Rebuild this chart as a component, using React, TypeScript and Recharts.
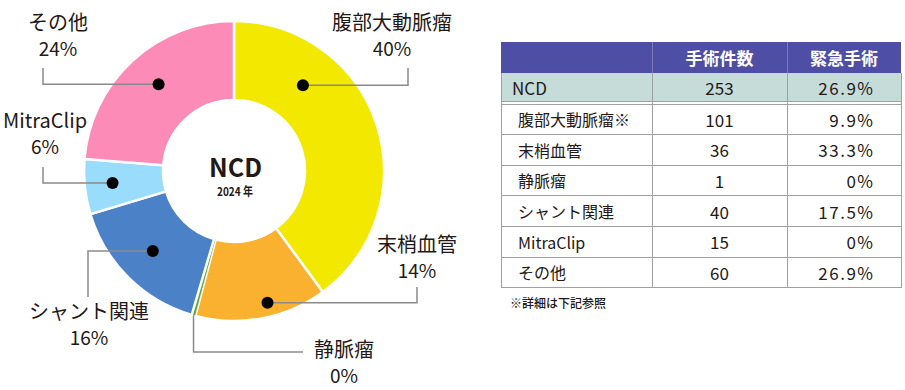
import { PieChart, Pie, Cell } from 'recharts';

// 2024 NCD registrations by category
const categories = ['腹部大動脈瘤', '末梢血管', '静脈瘤', 'シャント関連', 'MitraClip', 'その他'];
const tableCategories = ['腹部大動脈瘤※', '末梢血管', '静脈瘤', 'シャント関連', 'MitraClip', 'その他'];
const surgeryCounts = [101, 36, 1, 40, 15, 60];
const emergencyRates = ['9.9%', '33.3%', '0%', '17.5%', '0%', '26.9%'];
const totalEmergencyRate = '26.9%';
const columnHeaders = ['手術件数', '緊急手術'];
const centerTitle = 'NCD';
const centerYear = '2024 年';
const footnote = '※詳細は下記参照';

const sliceColors = ['#f2e800', '#fbb130', '#5ba53a', '#4b82c7', '#9adcfb', '#fd8bb8'];

const totalCount = surgeryCounts.reduce((a, b) => a + b, 0);
const pieData = categories.map((name, i) => ({ name, value: surgeryCounts[i] }));

const FONT = '"Noto Sans CJK JP", "Noto Sans", sans-serif';
const TEXT = '#231815';
const LEADER = '#8a8a8a';
const CX = 234;
const CY = 171;
const RAD = Math.PI / 180;

// callout geometry, offsets from the pie centre
// dotT: position of the dot across the slice's sweep, dotR: its radius
const callouts = [
  { dotT: 0.27, dotR: 110, elbowX: 174, endY: -103, textX: 158, textY: -148 },
  { dotT: 0.43, dotR: 136, elbowX: 183, endY: 116, textX: 183, textY: 74 },
  { dotT: 0, dotR: 0, elbowX: 69, endY: 181, textX: 110, textY: 179 },
  { dotT: 0.51, dotR: 114, elbowX: -146, endY: 126, textX: -145, textY: 141 },
  { dotT: 0.52, dotR: 122, elbowX: -191, endY: -4, textX: -189, textY: -50 },
  { dotT: 0.52, dotR: 115, elbowX: -191, endY: -103, textX: -176, textY: -148 },
];

const polar = (cx: number, cy: number, r: number, angle: number) => ({
  x: cx + r * Math.cos(-angle * RAD),
  y: cy + r * Math.sin(-angle * RAD),
});

const renderCallout = (props: any) => {
  const { cx, cy, startAngle, endAngle, midAngle, outerRadius, percent, index, name } = props;
  const c = callouts[index];
  let pts: number[][];
  let dot = null;
  if (c.dotR > 0) {
    const p = polar(cx, cy, c.dotR, startAngle + (endAngle - startAngle) * c.dotT);
    pts = [[p.x, p.y], [cx + c.elbowX, p.y], [cx + c.elbowX, cy + c.endY]];
    dot = <circle cx={p.x} cy={p.y} r={6} fill="#000" />;
  } else {
    // thin slice: leader starts on the outer edge and drops down
    const p = polar(cx, cy, outerRadius, midAngle);
    pts = [[p.x, p.y], [p.x, cy + c.endY], [cx + c.elbowX, cy + c.endY]];
  }
  const tx = cx + c.textX;
  const ty = cy + c.textY;
  return (
    <g key={`callout-${index}`}>
      <polyline
        points={pts.map((q) => q.join(',')).join(' ')}
        fill="none"
        stroke={LEADER}
        strokeWidth={1.5}
      />
      {dot}
      <text x={tx} y={ty + 7} textAnchor="middle" fontFamily={FONT} fontSize={20} fill={TEXT}>
        {name}
      </text>
      <text x={tx} y={ty + 33} textAnchor="middle" fontFamily={FONT} fontSize={19} fill={TEXT}>
        {`${Math.round(percent * 100)}%`}
      </text>
    </g>
  );
};

const T_LEFT = 501;
const COLS = [151, 135, 114];
const GRID = '#a0a0a0';
const ROW_H = 30.6;

function SummaryTable() {
  const cellBase = {
    position: 'absolute' as const,
    display: 'flex',
    alignItems: 'center',
    boxSizing: 'border-box' as const,
    whiteSpace: 'nowrap' as const,
    fontFamily: FONT,
    color: TEXT,
  };
  const x1 = T_LEFT + COLS[0];
  const x2 = x1 + COLS[1];
  const width = COLS[0] + COLS[1] + COLS[2];
  const dataTop = 104;
  const bottom = dataTop + ROW_H * tableCategories.length;

  return (
    <div style={{ position: 'absolute', left: 0, top: 0, width: 905, height: 390 }}>
      {/* header */}
      <div style={{ position: 'absolute', left: T_LEFT, top: 42, width, height: 31, background: '#4f4ea5' }} />
      {columnHeaders.map((h, i) => (
        <div
          key={h}
          style={{
            ...cellBase,
            left: i === 0 ? x1 : x2,
            top: 42,
            width: COLS[i + 1],
            height: 31,
            justifyContent: 'center',
            color: '#fff',
            fontWeight: 700,
            fontSize: 17,
          }}
        >
          {h}
        </div>
      ))}
      {/* NCD total row */}
      <div style={{ position: 'absolute', left: T_LEFT, top: 73, width, height: 28.5, background: '#c6dcd9' }} />
      <div style={{ ...cellBase, left: T_LEFT + 11, top: 73, height: 28.5, fontSize: 17 }}>{centerTitle}</div>
      <div style={{ ...cellBase, left: x1, top: 73, width: COLS[1], height: 28.5, justifyContent: 'center', fontSize: 17 }}>
        {totalCount}
      </div>
      <div
        style={{
          ...cellBase,
          left: x2,
          top: 73,
          width: COLS[2],
          height: 28.5,
          justifyContent: 'flex-end',
          paddingRight: 26.5,
          fontSize: 17,
          letterSpacing: 1.5,
        }}
      >
        {totalEmergencyRate}
      </div>
      {/* category rows */}
      {tableCategories.map((name, i) => {
        const top = dataTop + ROW_H * i;
        return (
          <div key={name}>
            <div style={{ ...cellBase, left: T_LEFT + 17, top, height: ROW_H, fontSize: 16 }}>{name}</div>
            <div
              style={{ ...cellBase, left: x1, top, width: COLS[1], height: ROW_H, justifyContent: 'center', fontSize: 17 }}
            >
              {surgeryCounts[i]}
            </div>
            <div
              style={{
                ...cellBase,
                left: x2,
                top,
                width: COLS[2],
                height: ROW_H,
                justifyContent: 'flex-end',
                paddingRight: 26.5,
                fontSize: 17,
                letterSpacing: 1.5,
              }}
            >
              {emergencyRates[i]}
            </div>
          </div>
        );
      })}
      {/* grid lines */}
      <svg style={{ position: 'absolute', left: 0, top: 0 }} width={905} height={390}>
        <g stroke={GRID} strokeWidth={1} shapeRendering="crispEdges">
          <line x1={T_LEFT} y1={73} x2={T_LEFT} y2={bottom} />
          <line x1={T_LEFT + width} y1={73} x2={T_LEFT + width} y2={bottom} />
          <line x1={x1} y1={73} x2={x1} y2={bottom} />
          <line x1={x2} y1={73} x2={x2} y2={bottom} />
          <line x1={T_LEFT} y1={101} x2={T_LEFT + width} y2={101} />
          {tableCategories.map((_, i) => (
            <line key={i} x1={T_LEFT} y1={dataTop + ROW_H * i} x2={T_LEFT + width} y2={dataTop + ROW_H * i} />
          ))}
          <line x1={T_LEFT} y1={bottom} x2={T_LEFT + width} y2={bottom} />
        </g>
        <g stroke="#7a7ab8" strokeWidth={1} shapeRendering="crispEdges">
          <line x1={x1} y1={42} x2={x1} y2={73} />
          <line x1={x2} y1={42} x2={x2} y2={73} />
        </g>
      </svg>
      <div
        style={{
          position: 'absolute',
          left: 510,
          top: 294,
          fontFamily: FONT,
          fontSize: 12,
          fontWeight: 500,
          color: TEXT,
          whiteSpace: 'nowrap',
        }}
      >
        {footnote}
      </div>
    </div>
  );
}

export default function App() {
  return (
    <div style={{ position: 'fixed', left: 0, top: 0, width: 905, height: 390, background: '#fff' }}>
      <PieChart width={905} height={390} margin={{ top: 0, right: 0, bottom: 0, left: 0 }}>
        <Pie
          data={pieData}
          dataKey="value"
          nameKey="name"
          cx={CX}
          cy={CY}
          innerRadius={71}
          outerRadius={150}
          startAngle={90}
          endAngle={-270}
          stroke="#fff"
          strokeWidth={2.5}
          label={renderCallout}
          labelLine={false}
          isAnimationActive={false}
        >
          {pieData.map((d, i) => (
            <Cell key={d.name} fill={sliceColors[i]} strokeWidth={d.value < 5 ? 0.6 : 2.5} />
          ))}
        </Pie>
        <text
          x={CX + 1.5}
          y={CY + 6}
          textAnchor="middle"
          fontFamily={FONT}
          fontWeight={700}
          fontSize={25}
          textLength={53}
          lengthAdjust="spacingAndGlyphs"
          fill={TEXT}
        >
          {centerTitle}
        </text>
        <text
          x={CX + 1}
          y={CY + 25}
          textAnchor="middle"
          fontFamily={FONT}
          fontWeight={700}
          fontSize={12}
          textLength={36}
          lengthAdjust="spacingAndGlyphs"
          fill={TEXT}
        >
          {centerYear}
        </text>
      </PieChart>
      <SummaryTable />
    </div>
  );
}
